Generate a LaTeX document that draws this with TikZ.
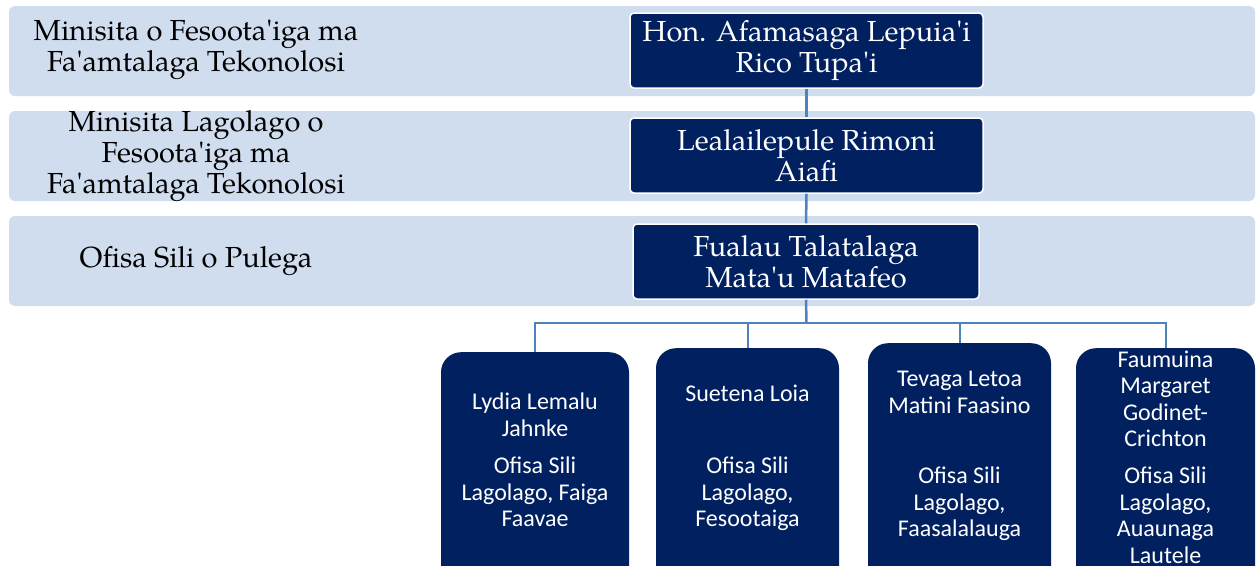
\documentclass[tikz,border=0pt]{standalone}
\usepackage{fontspec}
\setmainfont{TeX Gyre Pagella}[Ligatures=TeXOff]
\newfontfamily\calfont{Carlito}
\definecolor{navy}{RGB}{0,32,96}
\definecolor{bandblue}{RGB}{208,221,238}
\definecolor{linkblue}{RGB}{79,129,189}
\begin{document}
\begin{tikzpicture}[x=1pt,y=-1pt,
  band/.style={fill=bandblue, rounded corners=6pt, inner sep=0pt, minimum width=1246pt, minimum height=90pt},
  boss/.style={fill=navy, draw=white, line width=1.5pt, rounded corners=4pt, inner sep=0pt, minimum width=353pt, minimum height=75pt, text=white, align=center, font=\fontsize{29}{31}\selectfont},
  staff/.style={fill=navy, rounded corners=20pt, inner sep=0pt, anchor=north, minimum height=260pt},
  link/.style={draw=linkblue, line width=2.5pt},
  bandtext/.style={align=center, text=black, font=\fontsize{29}{31}\selectfont},
  stafftext/.style={align=center, text=white, font=\calfont\fontsize{24}{26.5}\selectfont}]
\useasboundingbox (0,0) rectangle (1257,565);
\clip (0,0) rectangle (1257,565);
% bands
\node[band] (b1) at (632,51) {};
\node[band] (b2) at (632,156) {};
\node[band] (b3) at (632,261) {};
\node[bandtext] (l1) at (196,50) {Minisita o Fesoota'iga ma\\Fa'amtalaga Tekonolosi};
\node[bandtext] (l2) at (196,156) {Minisita Lagolago o\\Fesoota'iga ma\\Fa'amtalaga Tekonolosi};
\node[bandtext] (l3) at (196,261) {Ofisa Sili o Pulega};
% top chain
\node[boss] (m1) at (806.5,50.5) {Hon. Afamasaga Lepuia'i\\Rico Tupa'i};
\node[boss] (m2) at (806.5,155.5) {Lealailepule Rimoni\\Aiafi};
\node[boss, minimum width=346pt] (m3) at (806,261.5) {Fualau Talatalaga\\Mata'u Matafeo};
% staff boxes
\node[staff, minimum width=188pt] (s1) at (535,352) {};
\node[staff, minimum width=183pt] (s2) at (747.5,348) {};
\node[staff, minimum width=183pt] (s3) at (959.5,343) {};
\node[staff, minimum width=179pt] (s4) at (1165.5,348) {};
% connectors
\draw[link] (m1.south) -- (m2.north);
\draw[link] (m2.south) -- (m3.north);
\coordinate (hub) at (806.5,323);
\draw[link] (m3.south) -- (hub);
\draw[link, line width=2pt] (hub) -| (s1.north);
\draw[link, line width=2pt] (hub) -| (s2.north);
\draw[link, line width=2pt] (hub) -| (s3.north);
\draw[link, line width=2pt] (hub) -| (s4.north);
% staff texts
\node[stafftext] (s1n) at (535,414.5) {Lydia Lemalu\\Jahnke};
\node[stafftext] (s1t) at (535,492) {Ofisa Sili\\Lagolago, Faiga\\Faavae};
\node[stafftext] (s2n) at (747.5,393) {Suetena Loia};
\node[stafftext] (s2t) at (747.5,494) {Ofisa Sili\\Lagolago,\\Fesootaiga};
\node[stafftext] (s3n) at (959.5,392.5) {Tevaga Letoa\\Matini Faasino};
\node[stafftext] (s3t) at (959.5,504) {Ofisa Sili\\Lagolago,\\Faasalalauga};
\node[stafftext] (s4n) at (1165.5,399) {Faumuina\\Margaret\\Godinet-\\Crichton};
\node[stafftext] (s4t) at (1165.5,515) {Ofisa Sili\\Lagolago,\\Auaunaga\\Lautele};
\end{tikzpicture}
\end{document}
